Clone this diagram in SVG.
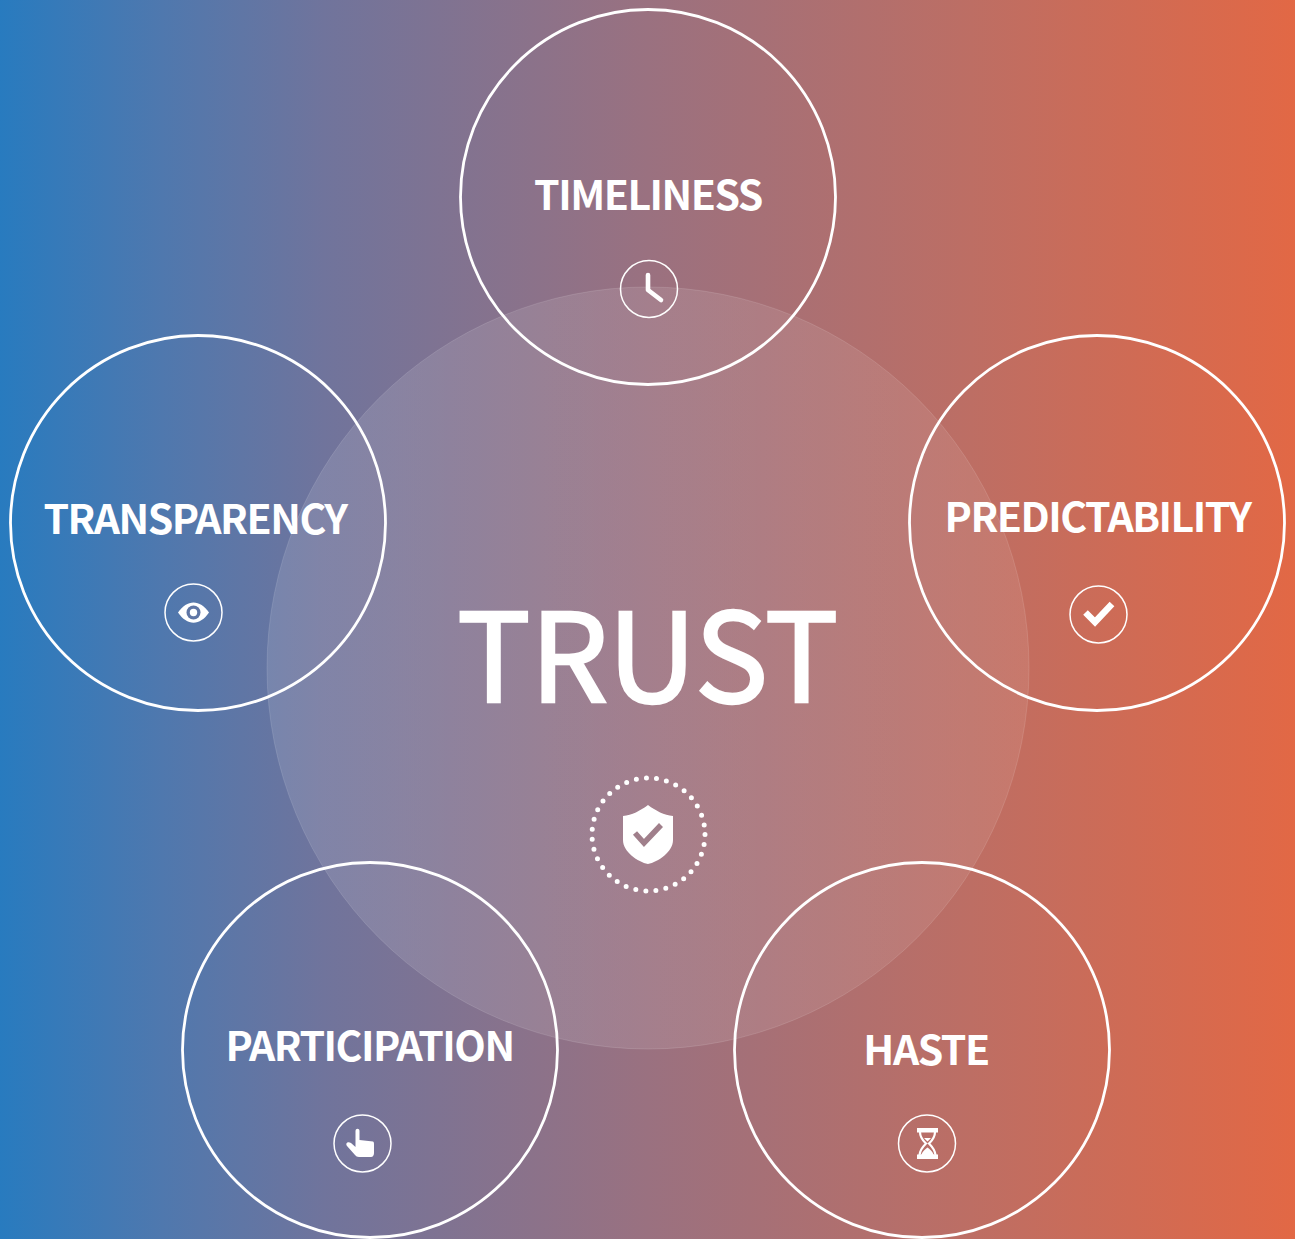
<svg xmlns="http://www.w3.org/2000/svg" width="1295" height="1239" viewBox="0 0 1295 1239">
<style>
.ring{fill:none;stroke:#fff;stroke-width:2.8}
.mini{fill:none;stroke:#fff;stroke-width:1.5}
.lbl{font-family:"Noto Sans CJK SC","Noto Sans",sans-serif;font-weight:700;font-size:41px;letter-spacing:-1.5px;fill:#fff;text-anchor:middle}
.ic{fill:#fff}
</style>
<defs>
<linearGradient id="bg" x1="0" y1="0" x2="1" y2="0">
<stop offset="0" stop-color="#287bbf"/>
<stop offset=".125" stop-color="#4f78ae"/>
<stop offset=".25" stop-color="#70749c"/>
<stop offset=".5" stop-color="#9a7180"/>
<stop offset=".75" stop-color="#bd6e64"/>
<stop offset="1" stop-color="#e26845"/>
</linearGradient>
<linearGradient id="disc" x1="0" y1="0" x2="1" y2="0">
<stop offset="0" stop-color="#fff" stop-opacity=".12"/>
<stop offset="1" stop-color="#fff" stop-opacity=".08"/>
</linearGradient>
</defs>
<rect width="1295" height="1239" fill="url(#bg)"/>
<g id="center">
<circle cx="648" cy="668" r="381" fill="url(#disc)" stroke="#fff" stroke-opacity=".12"/>
<text x="647.500" y="702" style="font-family:'Noto Sans CJK SC','Noto Sans',sans-serif;font-size:123px;letter-spacing:-.5px;stroke:#fff;stroke-width:2.4px;fill:#fff;text-anchor:middle">TRUST</text>
<circle cx="648.500" cy="834.500" r="56.500" fill="none" stroke="#fff" stroke-width="5" stroke-linecap="round" stroke-dasharray="0 10.143"/>
<path class="ic" d="M648 805C640 811 632 815 623 816V840C623 852 638 862 648 864C658 862 673 852 673 840V816C664 815 656 811 648 805Z"/>
<path d="M635 833L644 843L661 825" fill="none" stroke="#a07f8b" stroke-width="5.500"/>
</g>
<g id="timeliness">
<circle class="ring" cx="648" cy="197" r="187.500"/>
<text class="lbl" x="648" y="210">TIMELINESS</text>
<circle class="mini" cx="649" cy="289" r="28.500"/>
<path d="M648 275V290L661 300" fill="none" stroke="#fff" stroke-width="4.600" stroke-linecap="round" stroke-linejoin="round"/>
</g>
<g id="transparency">
<circle class="ring" cx="198" cy="523" r="187.500"/>
<text class="lbl" x="195" y="534">TRANSPARENCY</text>
<circle class="mini" cx="193.500" cy="612.500" r="28.500"/>
<path class="ic" d="M178 612.500C187 599 200 599 209 612.500C200 626 187 626 178 612.500Z"/>
<circle cx="193.500" cy="612.500" r="7" fill="#5f76a5"/>
<circle class="ic" cx="193.500" cy="612.500" r="3.700"/>
</g>
<g id="predictability">
<circle class="ring" cx="1097" cy="523" r="187.500"/>
<text class="lbl" x="1097.500" y="532">PREDICTABILITY</text>
<circle class="mini" cx="1098.500" cy="614.500" r="28.500"/>
<path d="M1085.500 612.500L1095 622L1112 604" fill="none" stroke="#fff" stroke-width="6.500"/>
</g>
<g id="participation">
<circle class="ring" cx="370" cy="1050" r="187.500"/>
<text class="lbl" x="369.500" y="1061">PARTICIPATION</text>
<circle class="mini" cx="362.500" cy="1143.500" r="28.500"/>
<path class="ic" d="M355.500 1131C355.500 1128 359.500 1128 359.500 1131V1140L373 1141.500C374 1142 374 1143 374 1145V1153C374 1155 373 1157 371 1157H359C357 1157 356 1156 355 1155L347 1146C345 1143 348 1141 351 1143L355.500 1147Z"/>
</g>
<g id="haste">
<circle class="ring" cx="922" cy="1050" r="187.500"/>
<text class="lbl" x="926" y="1065">HASTE</text>
<circle class="mini" cx="927" cy="1143.500" r="28.500"/>
<rect class="ic" x="917" y="1128" width="21" height="4.500"/>
<rect class="ic" x="917" y="1154.500" width="21" height="4.500"/>
<path d="M920 1132C920 1138 923.500 1141 926 1143.500C923.500 1146 920 1150 919.500 1155M935 1132C935 1138 931.500 1141 929 1143.500C931.500 1146 935 1150 935.500 1155" fill="none" stroke="#fff" stroke-width="2.200"/>
<path class="ic" d="M921 1155C923 1151 925.500 1149 927.500 1147.500C929.500 1149 932 1151 934 1155ZM924 1138H931L927.500 1141.500Z"/>
</g>
</svg>
